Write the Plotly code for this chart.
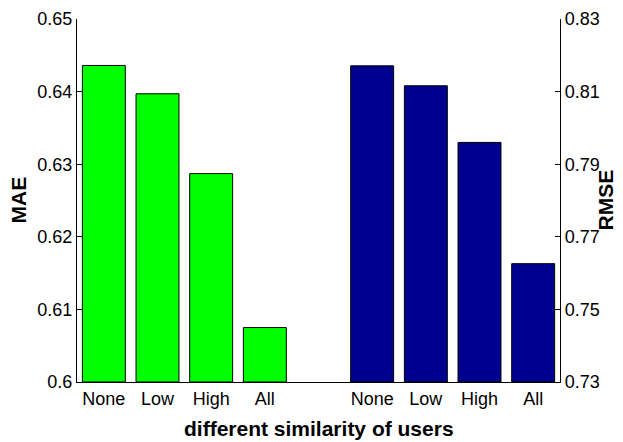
import plotly.graph_objects as go

categories = ["None", "Low", "High", "All"]
mae = [0.6436, 0.6397, 0.6287, 0.6075]
rmse = [0.8171, 0.8116, 0.7960, 0.7626]
mae_ticks = [0.60, 0.61, 0.62, 0.63, 0.64, 0.65]
mae_ticktext = ["0.6", "0.61", "0.62", "0.63", "0.64", "0.65"]
rmse_ticks = [0.73, 0.75, 0.77, 0.79, 0.81, 0.83]
rmse_ticktext = ["0.73", "0.75", "0.77", "0.79", "0.81", "0.83"]

n = len(categories)
x_mae = list(range(n))
x_rmse = [n + 1 + i for i in range(n)]

FONT = "Liberation Sans, Arial, sans-serif"

fig = go.Figure()
fig.add_trace(go.Bar(x=x_mae, y=[v - mae_ticks[0] for v in mae], base=mae_ticks[0],
                     width=0.8, marker=dict(color="#00FF00", line=dict(color="black", width=1)),
                     yaxis="y", showlegend=False))
fig.add_trace(go.Bar(x=x_rmse, y=[v - rmse_ticks[0] for v in rmse], base=rmse_ticks[0],
                     width=0.8, marker=dict(color="#00008F", line=dict(color="black", width=1)),
                     yaxis="y2", showlegend=False))

fig.update_layout(
    width=607, height=434,
    margin=dict(l=68.5, r=55, t=11, b=60, autoexpand=False),
    paper_bgcolor="white", plot_bgcolor="white",
    font=dict(family=FONT, size=18, color="black"),
    barmode="overlay",
    xaxis=dict(range=[-0.5, 2 * n + 0.5], tickvals=x_mae + x_rmse, ticktext=categories + categories,
               ticks="inside", ticklen=0, showline=True, linecolor="black", linewidth=1.2,
               showgrid=False, zeroline=False, automargin=False),
    xaxis2=dict(range=[-0.5, 2 * n + 0.5], overlaying="x", side="top", tickvals=x_mae,
                showticklabels=False, ticks="inside", ticklen=5, tickcolor="black", automargin=False,
                showline=True, linecolor="black", linewidth=1.2, showgrid=False, zeroline=False),
    yaxis=dict(range=[mae_ticks[0], mae_ticks[-1]], tickvals=mae_ticks, ticktext=mae_ticktext,
               ticks="inside", ticklen=5, tickcolor="black", showline=True, linecolor="black",
               linewidth=1.2, showgrid=False, zeroline=False, automargin=False),
    yaxis2=dict(range=[rmse_ticks[0], rmse_ticks[-1]], tickvals=rmse_ticks, ticktext=rmse_ticktext,
                overlaying="y", side="right", ticks="inside", ticklen=5, tickcolor="black",
                showline=True, linecolor="black", linewidth=1.2, showgrid=False, zeroline=False,
                automargin=False),
    annotations=[
        dict(text="<b>different similarity of users</b>", xref="paper", yref="paper", x=0.5, y=0,
             yshift=-46, xanchor="center", yanchor="middle", showarrow=False,
             font=dict(size=21)),
        dict(text="<b>MAE</b>", xref="paper", yref="paper", x=0, y=0.5, xshift=-59,
             xanchor="center", yanchor="middle", textangle=-90, showarrow=False,
             font=dict(size=21)),
        dict(text="<b>RMSE</b>", xref="paper", yref="paper", x=1, y=0.5, xshift=45,
             xanchor="center", yanchor="middle", textangle=-90, showarrow=False,
             font=dict(size=21)),
    ],
)

fig.write_html("out.html")
